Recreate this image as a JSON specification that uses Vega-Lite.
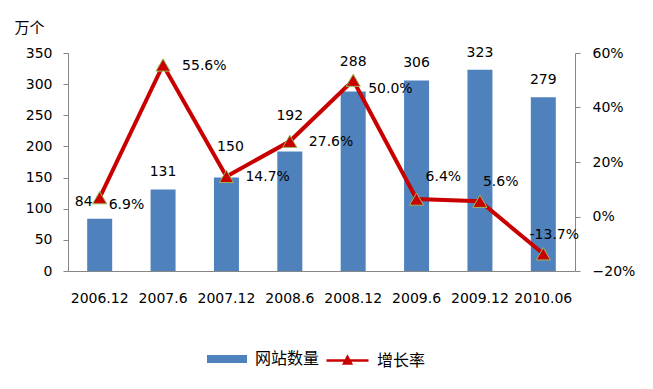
{
  "$schema": "https://vega.github.io/schema/vega-lite/v6.json",
  "width": 507,
  "height": 218,
  "autosize": "none",
  "padding": {"left": 68, "top": 53, "right": 78, "bottom": 118},
  "background": "white",
  "config": {
    "view": {"stroke": null},
    "font": "DejaVu Sans",
    "text": {"font": "DejaVu Sans", "fontSize": 14, "color": "#000"},
    "axis": {"labelFont": "DejaVu Sans", "labelFontSize": 14, "labelColor": "#000", "domainColor": "#868686", "tickColor": "#868686", "grid": false, "labelOverlap": false},
    "legend": {"labelFont": "Noto Sans CJK SC", "labelFontSize": 16, "labelColor": "#000", "orient": "bottom", "direction": "horizontal", "title": null, "offset": 44,
      "layout": {"bottom": {"anchor": "middle", "direction": "horizontal", "margin": 16}}}
  },
  "data": {
    "values": [
      {"t": "2006.12", "n": 84, "r": 0.069, "lbl": "6.9%"},
      {"t": "2007.6", "n": 131, "r": 0.556, "lbl": "55.6%"},
      {"t": "2007.12", "n": 150, "r": 0.147, "lbl": "14.7%"},
      {"t": "2008.6", "n": 192, "r": 0.276, "lbl": "27.6%"},
      {"t": "2008.12", "n": 288, "r": 0.5, "lbl": "50.0%"},
      {"t": "2009.6", "n": 306, "r": 0.064, "lbl": "6.4%"},
      {"t": "2009.12", "n": 323, "r": 0.056, "lbl": "5.6%"},
      {"t": "2010.06", "n": 279, "r": -0.137, "lbl": "-13.7%"}
    ]
  },
  "encoding": {
    "x": {"field": "t", "type": "ordinal", "sort": null, "scale": {"paddingInner": 0.6, "paddingOuter": 0.3},
      "axis": {"title": null, "labelAngle": 0, "ticks": false, "labelPadding": 20, "domainColor": "#868686"}}
  },
  "layer": [
    {
      "encoding": {
        "y": {"field": "n", "type": "quantitative", "scale": {"domain": [0, 350]},
          "axis": {"title": "万个", "titleAngle": 0, "titleAlign": "left", "titleBaseline": "middle", "titleX": -54, "titleY": -26, "titleFont": "Noto Sans CJK SC", "titleFontWeight": "normal", "titleFontSize": 15, "titleColor": "#000", "values": [0,50,100,150,200,250,300,350], "tickSize": 5, "labelPadding": 11}}
      },
      "layer": [
        {
          "mark": {"type": "bar", "width": 25},
          "encoding": {
            "fill": {"datum": "网站数量", "type": "nominal", "scale": {"range": ["#4F81BD"]},
              "legend": {"symbolType": "M-2,-0.4H2V0.4H-2Z", "symbolSize": 400, "symbolStrokeWidth": 0, "labelOffset": 18}}
          }
        },
        {
          "transform": [{"filter": "datum.t != '2006.12' && datum.t != '2007.12' && datum.t != '2008.6' && datum.t != '2008.12'"}],
          "mark": {"type": "text", "dy": -17},
          "encoding": {"text": {"field": "n"}}
        },
        {
          "transform": [{"filter": "datum.t == '2006.12'"}],
          "mark": {"type": "text", "dy": -17, "dx": -16},
          "encoding": {"text": {"field": "n"}}
        },
        {
          "transform": [{"filter": "datum.t == '2007.12'"}],
          "mark": {"type": "text", "dy": -31, "dx": 4},
          "encoding": {"text": {"field": "n"}}
        },
        {
          "transform": [{"filter": "datum.t == '2008.6'"}],
          "mark": {"type": "text", "dy": -35},
          "encoding": {"text": {"field": "n"}}
        },
        {
          "transform": [{"filter": "datum.t == '2008.12'"}],
          "mark": {"type": "text", "dy": -30},
          "encoding": {"text": {"field": "n"}}
        }
      ]
    },
    {
      "encoding": {
        "y": {"field": "r", "type": "quantitative", "scale": {"domain": [-0.2, 0.6]},
          "axis": {"orient": "right", "title": null, "format": ".0%", "values": [-0.2, 0, 0.2, 0.4, 0.6], "tickSize": 5, "labelPadding": 12}}
      },
      "layer": [
        {
          "mark": {"type": "line", "strokeWidth": 4},
          "encoding": {
            "stroke": {"datum": "增长率", "type": "nominal", "scale": {"range": ["#C80000"]},
              "legend": {"symbolType": "M-2.1,0H2.1M-0.35,0.3L0,-0.35L0.35,0.3Z", "symbolSize": 400, "symbolStrokeWidth": 2.5, "symbolFillColor": "#C80000", "labelOffset": 18}}
          }
        },
        {
          "mark": {"type": "point", "shape": "triangle-up", "filled": true, "size": 200, "fill": "#C80000", "stroke": "#9BBB59", "strokeWidth": 1, "opacity": 1}
        },
        {
          "transform": [{"filter": "datum.t == '2006.12'"}],
          "mark": {"type": "text", "align": "left", "dx": 9, "dy": 7},
          "encoding": {"text": {"field": "lbl"}}
        },
        {
          "transform": [{"filter": "datum.t == '2007.6' || datum.t == '2007.12' || datum.t == '2008.6'"}],
          "mark": {"type": "text", "align": "left", "dx": 19, "dy": 1},
          "encoding": {"text": {"field": "lbl"}}
        },
        {
          "transform": [{"filter": "datum.t == '2008.12'"}],
          "mark": {"type": "text", "align": "left", "dx": 15, "dy": 9},
          "encoding": {"text": {"field": "lbl"}}
        },
        {
          "transform": [{"filter": "datum.t == '2009.6'"}],
          "mark": {"type": "text", "align": "left", "dx": 9, "dy": -22},
          "encoding": {"text": {"field": "lbl"}}
        },
        {
          "transform": [{"filter": "datum.t == '2009.12'"}],
          "mark": {"type": "text", "align": "left", "dx": 3, "dy": -19},
          "encoding": {"text": {"field": "lbl"}}
        },
        {
          "transform": [{"filter": "datum.t == '2010.06'"}],
          "mark": {"type": "text", "align": "center", "dx": 11, "dy": -19},
          "encoding": {"text": {"field": "lbl"}}
        }
      ]
    }
  ],
  "resolve": {"scale": {"y": "independent"}}
}
